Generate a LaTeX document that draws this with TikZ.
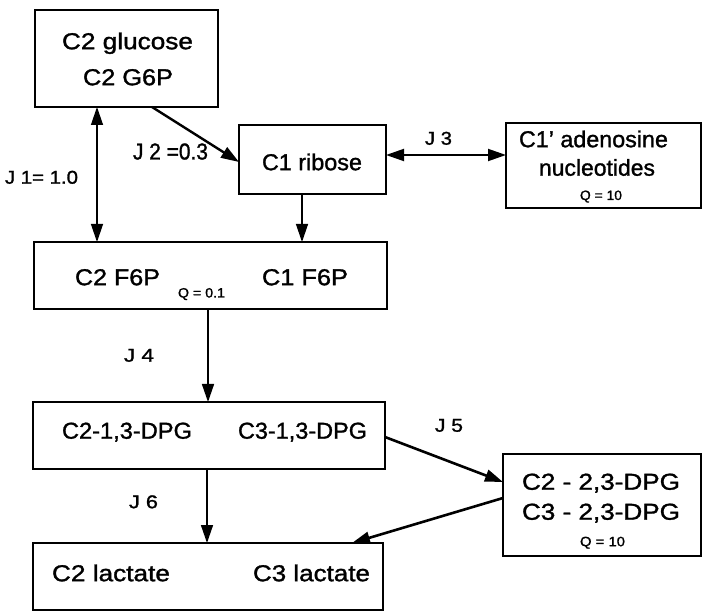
\documentclass[tikz,border=0pt]{standalone}
\usepackage{fontspec}
\setmainfont[FakeBold=1.3]{Liberation Sans}
\usetikzlibrary{arrows.meta}
\newcommand\fw[2]{\resizebox{#1pt}{\height}{#2}}
\begin{document}
\begin{tikzpicture}[x=1pt,y=-1pt,
  box/.style={draw, line width=1.7pt, inner sep=0pt, outer sep=0pt},
  big/.style={font=\fontsize{23}{26}\selectfont, inner sep=0pt, anchor=base},
  lab/.style={font=\fontsize{18.5}{21}\selectfont, inner sep=0pt, anchor=base},
  sm/.style={font=\fontsize{13.5}{15}\selectfont, inner sep=0pt, anchor=base},
  tip/.style={-{Triangle[length=18pt,width=12pt]}},
  dtip/.style={{Triangle[length=18pt,width=12pt]}-{Triangle[length=18pt,width=12pt]}},
]
\useasboundingbox (0,0) rectangle (702,612);

% boxes
\node[box, minimum width=183pt, minimum height=97pt] (glu) at (126.5,58.5) {};
\node[box, minimum width=147pt, minimum height=69pt] (rib) at (312.5,159.5) {};
\node[box, minimum width=195pt, minimum height=85pt] (aden) at (603.5,165.5) {};
\node[box, minimum width=353pt, minimum height=67pt] (f6p) at (210.5,275.5) {};
\node[box, minimum width=352pt, minimum height=67pt] (dpga) at (209,435.5) {};
\node[box, minimum width=198pt, minimum height=102pt] (dpgb) at (602,505) {};
\node[box, minimum width=350pt, minimum height=67pt] (lac) at (208,576.5) {};

% texts
\node[big] (t1) at (127.5,49.2) {\fw{131}{C2 glucose}};
\node[big] (t2) at (128,85.2) {\fw{90}{C2 G6P}};
\node[big] (t3) at (312,170.2) {\fw{100}{C1 ribose}};
\node[big] (t4) at (593.5,147.2) {\fw{149}{C1' adenosine}};
\node[big] (t5) at (597,175.7) {\fw{116}{nucleotides}};
\node[sm]  (t6) at (601,200) {\fw{42}{Q = 10}};
\node[big] (t7) at (117.5,285.2) {\fw{85}{C2 F6P}};
\node[big] (t8) at (305,285.2) {\fw{86}{C1 F6P}};
\node[sm]  (t9) at (201.5,297.5) {\fw{47}{Q = 0.1}};
\node[big] (t10) at (127,438.7) {\fw{130}{C2-1,3-DPG}};
\node[big] (t11) at (302.5,438.7) {\fw{129}{C3-1,3-DPG}};
\node[big] (t12) at (601,489.7) {\fw{158}{C2 - 2,3-DPG}};
\node[big] (t13) at (601,519.7) {\fw{158}{C3 - 2,3-DPG}};
\node[sm]  (t14) at (602.5,546.2) {\fw{45}{Q = 10}};
\node[big] (t15) at (111,581.2) {\fw{118}{C2 lactate}};
\node[big] (t16) at (311.5,581.2) {\fw{117}{C3 lactate}};

% flux labels
\node[lab] (j1) at (41.5,183.7) {\fw{73}{J 1= 1.0}};
\node[big] (j2) at (170.5,159.5) {\fw{75}{J 2 =0.3}};
\node[lab] (j3) at (438.5,144.7) {\fw{27}{J 3}};
\node[lab] (j4) at (139,361.7) {\fw{30}{J 4}};
\node[lab] (j5) at (449,431.7) {\fw{28}{J 5}};
\node[lab] (j6) at (143.5,508.2) {\fw{29}{J 6}};

% connectors
\draw[dtip, line width=1.3pt] ([xshift=62pt]glu.south west) -- ([xshift=63pt]f6p.north west);
\draw[tip, line width=2.4pt] ([xshift=117pt]glu.south west) -- ([yshift=-37pt]rib.north west);
\draw[dtip, line width=1.9pt] ([yshift=4.5pt]rib.east) -- ([yshift=10.5pt]aden.west);
\draw[tip, line width=1.3pt] ([xshift=-10.5pt]rib.south) -- ([xshift=268pt]f6p.north west);
\draw[tip, line width=1.5pt] ([xshift=174pt]f6p.south west) -- ([xshift=175pt]dpga.north west);
\draw[tip, line width=2.6pt] ([yshift=-1.5pt]dpga.east) -- ([yshift=23pt]dpgb.west);
\draw[tip, line width=2.6pt] ([yshift=7pt]dpgb.west) -- ([xshift=319pt]lac.north west);
\draw[tip, line width=1.5pt] ([xshift=174pt]dpga.south west) -- ([xshift=174pt]lac.north west);
\end{tikzpicture}
\end{document}
